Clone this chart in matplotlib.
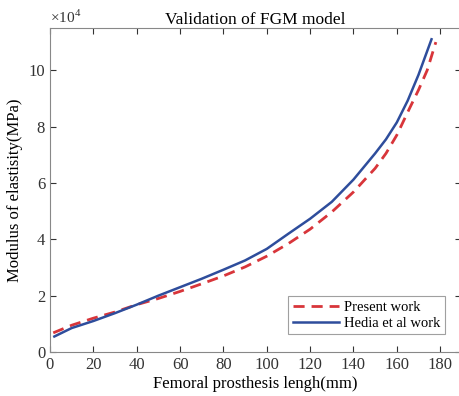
import matplotlib
matplotlib.use("Agg")
import matplotlib.pyplot as plt
import numpy as np

plt.rcParams['font.family'] = ['Liberation Serif', 'DejaVu Serif']
plt.rcParams['mathtext.fontset'] = 'custom'
plt.rcParams['mathtext.rm'] = 'Liberation Serif'

present_x = [1.5, 10, 20, 30, 40, 50, 60, 70, 80, 90, 100, 110, 120, 130, 140, 150, 155, 160, 166, 170, 174, 178]
present_y = [0.68, 0.95, 1.2, 1.42, 1.68, 1.9, 2.15, 2.42, 2.7, 3.02, 3.4, 3.85, 4.36, 4.97, 5.68, 6.52, 7.05, 7.7, 8.67, 9.3, 10.0, 11.0]

hedia_x = [2, 10, 20, 30, 40, 50, 60, 70, 80, 90, 100, 110, 120, 130, 140, 150, 155, 160, 165, 170, 176]
hedia_y = [0.55, 0.85, 1.1, 1.38, 1.68, 2.0, 2.3, 2.6, 2.92, 3.25, 3.66, 4.2, 4.73, 5.33, 6.12, 7.05, 7.55, 8.15, 8.92, 9.84, 11.1]

xticks = [0, 20, 40, 60, 80, 100, 120, 140, 160, 180]
yticks = [0, 2, 4, 6, 8, 10]

fig = plt.figure(figsize=(4.6, 3.96), dpi=100)
ax = fig.add_axes([50/460, 44/396, 411/460, 324/396])

ax.plot(present_x, present_y, color='#d8353a', linestyle=(0, (4, 2.5)), linewidth=2.0, label='Present work')
ax.plot(hedia_x, hedia_y, color='#2e4d9c', linewidth=1.8, label='Hedia et al work')

ax.set_xlim(0, 189.6)
ax.set_ylim(0, 11.5)
ax.set_xticks(xticks)
ax.set_yticks(yticks)
ax.tick_params(direction='in', top=True, right=True, labelsize=12, colors='#333333', length=4)
for s in ax.spines.values():
    s.set_color('#888888')
ax.spines['right'].set_visible(False)

ax.set_title('Validation of FGM model', fontsize=12.5, pad=3)
ax.set_xlabel('Femoral prosthesis lengh(mm)', fontsize=12, labelpad=2)
ax.set_ylabel('Modulus of elastisity(MPa)', fontsize=12, labelpad=4)
ax.text(0.0, 1.005, r'$\times 10^4$', transform=ax.transAxes, fontsize=11, color='#333333', va='bottom', ha='left')

leg = ax.legend(loc='lower right', bbox_to_anchor=(0.96, 0.055), fontsize=10.5, frameon=True, fancybox=False,
                handlelength=3.2, borderpad=0.3, labelspacing=0.2, handletextpad=0.3, borderaxespad=0)
leg.get_frame().set_edgecolor('#888888')
leg.get_frame().set_linewidth(0.8)

fig.savefig('out.png', dpi=100)
